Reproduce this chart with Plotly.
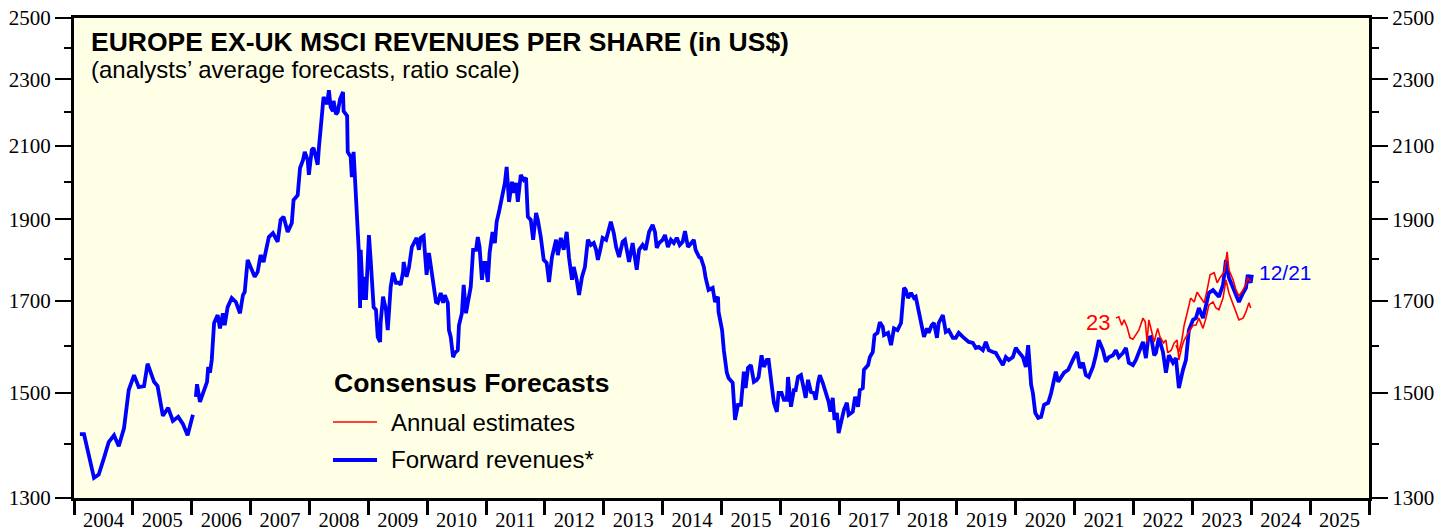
import plotly.graph_objects as go

# ---- data (decimal years, US$) ----
fwd_early_x = [2004.10, 2004.17, 2004.34, 2004.42, 2004.51, 2004.59, 2004.68, 2004.76, 2004.85, 2004.93,
               2005.02, 2005.10, 2005.19, 2005.25, 2005.36, 2005.42, 2005.51, 2005.60, 2005.68, 2005.77,
               2005.85, 2005.93, 2006.02]
fwd_early_v = [1418, 1418, 1336, 1342, 1373, 1403, 1416, 1395, 1430, 1506,
               1537, 1512, 1514, 1561, 1523, 1514, 1454, 1470, 1444, 1452,
               1438, 1416, 1456]

fwd_x = [2006.07, 2006.09, 2006.14, 2006.21, 2006.26, 2006.28, 2006.31, 2006.34, 2006.38, 2006.44,
         2006.48, 2006.53, 2006.56, 2006.61, 2006.68, 2006.75, 2006.82, 2006.87, 2006.90, 2006.95,
         2007.00, 2007.07, 2007.12, 2007.17, 2007.22, 2007.28, 2007.31, 2007.38, 2007.43, 2007.46,
         2007.51, 2007.56, 2007.63, 2007.70, 2007.73, 2007.80, 2007.84, 2007.89, 2007.92, 2007.97,
         2007.99, 2008.04, 2008.07, 2008.11, 2008.14, 2008.16, 2008.19, 2008.23, 2008.24, 2008.30,
         2008.33, 2008.36, 2008.40, 2008.41, 2008.45, 2008.48, 2008.52, 2008.57, 2008.58, 2008.64,
         2008.65, 2008.70, 2008.72, 2008.75, 2008.77, 2008.80, 2008.84, 2008.86, 2008.87, 2008.91,
         2008.92, 2008.96, 2008.99, 2009.01, 2009.04, 2009.08, 2009.09, 2009.13, 2009.16, 2009.20,
         2009.21, 2009.25, 2009.30, 2009.33, 2009.35, 2009.38, 2009.42, 2009.47, 2009.52, 2009.55,
         2009.59, 2009.60, 2009.65, 2009.69, 2009.74, 2009.77, 2009.82, 2009.86, 2009.89, 2009.94,
         2009.99, 2010.03, 2010.10, 2010.15, 2010.18, 2010.23, 2010.27, 2010.30, 2010.35, 2010.37,
         2010.40, 2010.44, 2010.47, 2010.52, 2010.54, 2010.59, 2010.62, 2010.66, 2010.69, 2010.74,
         2010.78, 2010.83, 2010.86, 2010.89, 2010.93, 2010.96, 2010.99, 2011.03, 2011.06, 2011.11,
         2011.15, 2011.18, 2011.22, 2011.25, 2011.29, 2011.32, 2011.35, 2011.39, 2011.44, 2011.47,
         2011.51, 2011.54, 2011.59, 2011.64, 2011.68, 2011.71, 2011.76, 2011.80, 2011.85, 2011.88,
         2011.93, 2011.98, 2012.03, 2012.07, 2012.12, 2012.15, 2012.19, 2012.22, 2012.27, 2012.32,
         2012.37, 2012.41, 2012.46, 2012.49, 2012.54, 2012.58, 2012.63, 2012.68, 2012.73, 2012.78,
         2012.83, 2012.87, 2012.90, 2012.95, 2012.98, 2013.04, 2013.07, 2013.12, 2013.17, 2013.21,
         2013.26, 2013.32, 2013.36, 2013.39, 2013.43, 2013.49, 2013.53, 2013.56, 2013.60, 2013.66,
         2013.71, 2013.77, 2013.83, 2013.87, 2013.90, 2013.94, 2014.00, 2014.04, 2014.09, 2014.14,
         2014.19, 2014.24, 2014.29, 2014.34, 2014.38, 2014.43, 2014.46, 2014.53, 2014.56, 2014.62,
         2014.65, 2014.70, 2014.73, 2014.78, 2014.85, 2014.89, 2014.94, 2014.95, 2015.01, 2015.04,
         2015.09, 2015.12, 2015.19, 2015.23, 2015.28, 2015.33, 2015.38, 2015.41, 2015.45, 2015.50,
         2015.55, 2015.60, 2015.63, 2015.68, 2015.72, 2015.77, 2015.80, 2015.85, 2015.89, 2015.94,
         2015.97, 2016.02, 2016.06, 2016.11, 2016.13, 2016.18, 2016.23, 2016.26, 2016.30, 2016.35,
         2016.40, 2016.43, 2016.47, 2016.52, 2016.57, 2016.60, 2016.64, 2016.67, 2016.72, 2016.77,
         2016.82, 2016.85, 2016.89, 2016.92, 2016.96, 2016.99, 2017.04, 2017.08, 2017.13, 2017.16,
         2017.23, 2017.27, 2017.32, 2017.35, 2017.40, 2017.42, 2017.49, 2017.52, 2017.57, 2017.60,
         2017.65, 2017.69, 2017.74, 2017.76, 2017.83, 2017.88, 2017.93, 2017.99, 2018.05, 2018.10,
         2018.13, 2018.17, 2018.22, 2018.27, 2018.30, 2018.35, 2018.40, 2018.44, 2018.49, 2018.52,
         2018.57, 2018.61, 2018.66, 2018.69, 2018.76, 2018.81, 2018.86, 2018.93, 2018.98, 2019.03,
         2019.10, 2019.15, 2019.20, 2019.27, 2019.32, 2019.37, 2019.44, 2019.49, 2019.54, 2019.61,
         2019.66, 2019.71, 2019.78, 2019.83, 2019.88, 2019.95, 2020.00, 2020.05, 2020.12, 2020.17,
         2020.21, 2020.22, 2020.26, 2020.29, 2020.33, 2020.38, 2020.43, 2020.48, 2020.55, 2020.60,
         2020.65, 2020.68, 2020.72, 2020.77, 2020.82, 2020.89, 2020.94, 2020.99, 2021.04, 2021.09,
         2021.14, 2021.19, 2021.24, 2021.31, 2021.36, 2021.41, 2021.48, 2021.53, 2021.58, 2021.65,
         2021.70, 2021.75, 2021.82, 2021.87, 2021.92, 2021.99, 2022.04, 2022.09, 2022.16, 2022.21,
         2022.25, 2022.30, 2022.35, 2022.38, 2022.43, 2022.50, 2022.55, 2022.60, 2022.67, 2022.72,
         2022.77, 2022.84, 2022.89, 2022.94, 2023.01, 2023.06, 2023.11, 2023.18, 2023.23, 2023.28,
         2023.35, 2023.40, 2023.45, 2023.52, 2023.57, 2023.62, 2023.69, 2023.74, 2023.79, 2023.86,
         2023.91, 2023.94, 2023.99, 2024.01]
fwd_v = [1492, 1518, 1482, 1506, 1523, 1554, 1542, 1569, 1650, 1668,
         1638, 1672, 1645, 1686, 1707, 1698, 1672, 1714, 1721, 1798,
         1781, 1757, 1769, 1810, 1793, 1828, 1855, 1865, 1853, 1843,
         1899, 1907, 1868, 1891, 1951, 1964, 2038, 2060, 2083, 2060,
         2019, 2089, 2094, 2069, 2047, 2094, 2158, 2214, 2245, 2223,
         2266, 2214, 2202, 2233, 2193, 2199, 2239, 2260, 2202, 2188,
         2083, 2069, 2013, 2083, 2019, 1933, 1815, 1684, 1823, 1703,
         1757, 1703, 1805, 1860, 1798, 1691, 1686, 1680, 1619, 1608,
         1652, 1710, 1680, 1634, 1664, 1733, 1767, 1743, 1743, 1738,
         1769, 1793, 1757, 1779, 1830, 1840, 1853, 1823, 1853, 1858,
         1762, 1815, 1743, 1698, 1696, 1719, 1696, 1714, 1696, 1634,
         1619, 1575, 1584, 1590, 1645, 1672, 1738, 1672, 1696, 1733,
         1823, 1823, 1855, 1830, 1750, 1791, 1791, 1745, 1815, 1868,
         1840, 1894, 1920, 1943, 1986, 1997, 2041, 1946, 2000, 1970,
         1997, 1946, 2019, 2005, 2011, 1907, 1899, 1848, 1917, 1899,
         1855, 1798, 1791, 1745, 1805, 1823, 1848, 1810, 1853, 1823,
         1868, 1803, 1750, 1781, 1750, 1714, 1757, 1781, 1848, 1835,
         1840, 1823, 1798, 1830, 1853, 1848, 1865, 1894, 1865, 1830,
         1805, 1843, 1848, 1823, 1793, 1840, 1798, 1774, 1823, 1835,
         1823, 1868, 1886, 1868, 1828, 1840, 1848, 1860, 1830, 1848,
         1840, 1853, 1835, 1843, 1870, 1830, 1835, 1848, 1823, 1805,
         1803, 1781, 1755, 1726, 1731, 1698, 1710, 1675, 1634, 1590,
         1542, 1531, 1521, 1446, 1476, 1476, 1544, 1510, 1552, 1558,
         1523, 1527, 1533, 1579, 1554, 1569, 1569, 1521, 1480, 1462,
         1500, 1500, 1486, 1486, 1533, 1472, 1506, 1506, 1533, 1537,
         1512, 1490, 1527, 1502, 1500, 1486, 1521, 1537, 1521, 1500,
         1482, 1462, 1490, 1446, 1460, 1420, 1446, 1466, 1480, 1456,
         1462, 1492, 1472, 1506, 1510, 1548, 1558, 1575, 1586, 1623,
         1628, 1652, 1641, 1623, 1628, 1601, 1638, 1634, 1650, 1731,
         1726, 1707, 1719, 1707, 1710, 1680, 1650, 1619, 1638, 1628,
         1645, 1650, 1617, 1650, 1668, 1630, 1634, 1617, 1617, 1628,
         1619, 1612, 1608, 1606, 1595, 1597, 1590, 1608, 1590, 1586,
         1584, 1573, 1558, 1575, 1569, 1575, 1595, 1586, 1575, 1554,
         1601, 1584, 1517, 1500, 1460, 1450, 1452, 1476, 1480, 1500,
         1531, 1544, 1523, 1533, 1542, 1548, 1563, 1575, 1586, 1552,
         1563, 1537, 1533, 1554, 1579, 1612, 1590, 1565, 1575, 1579,
         1590, 1575, 1584, 1595, 1563, 1558, 1569, 1584, 1608, 1573,
         1617, 1619, 1579, 1584, 1617, 1586, 1542, 1579, 1563, 1573,
         1510, 1548, 1569, 1634, 1657, 1661, 1684, 1661, 1691, 1719,
         1726, 1719, 1710, 1738, 1798, 1755, 1731, 1710, 1698, 1719,
         1731, 1762, 1743, 1762]

# annual estimates for 2023
est23_x = [2021.70, 2021.75, 2021.80, 2021.84, 2021.89, 2021.94, 2021.99, 2022.04, 2022.09, 2022.16,
           2022.20, 2022.23, 2022.26, 2022.31, 2022.35, 2022.41, 2022.45, 2022.51, 2022.55, 2022.58,
           2022.64, 2022.69, 2022.74, 2022.77, 2022.82, 2022.86, 2022.91, 2022.97, 2023.01, 2023.06,
           2023.11, 2023.18, 2023.23, 2023.28, 2023.35, 2023.40, 2023.45, 2023.52, 2023.57, 2023.62,
           2023.69, 2023.74, 2023.79, 2023.86, 2023.91, 2023.96, 2023.99]
est23_v = [1661, 1664, 1645, 1657, 1641, 1617, 1614, 1623, 1634, 1661,
           1652, 1608, 1657, 1630, 1608, 1638, 1619, 1606, 1612, 1584,
           1590, 1606, 1612, 1569, 1597, 1612, 1623, 1634, 1645, 1645,
           1661, 1638, 1661, 1691, 1698, 1684, 1680, 1707, 1750, 1719,
           1691, 1675, 1657, 1661, 1675, 1696, 1684]

# annual estimates for 2024
est24_x = [2022.72, 2022.77, 2022.82, 2022.86, 2022.91, 2022.97, 2023.03, 2023.08, 2023.13, 2023.20,
           2023.25, 2023.30, 2023.37, 2023.42, 2023.47, 2023.54, 2023.59, 2023.62, 2023.69, 2023.74,
           2023.79, 2023.86, 2023.91, 2023.94, 2023.99]
est24_v = [1601, 1586, 1612, 1645, 1672, 1707, 1698, 1721, 1710, 1696,
           1726, 1762, 1767, 1743, 1755, 1769, 1818, 1774, 1750, 1726,
           1712, 1726, 1740, 1755, 1745]

year_labels = [str(y) for y in range(2004, 2026)]
y_major = [1300, 1500, 1700, 1900, 2100, 2300, 2500]
y_minor = [1400, 1600, 1800, 2000, 2200, 2400]

# ---- figure ----
BLUE = "#0000FF"
RED = "#FF0000"
SANS = "Arial, Liberation Sans"
SERIF = "Liberation Serif"

fig = go.Figure()
fig.add_trace(go.Scatter(
    x=fwd_early_x + [None] + fwd_x, y=fwd_early_v + [None] + fwd_v,
    mode="lines", line=dict(color=BLUE, width=3.8), name="Forward revenues*"))
fig.add_trace(go.Scatter(
    x=est23_x, y=est23_v, mode="lines", line=dict(color=RED, width=1.6),
    name="Annual estimates 2023", yaxis="y2"))
fig.add_trace(go.Scatter(
    x=est24_x, y=est24_v, mode="lines", line=dict(color=RED, width=1.6),
    name="Annual estimates 2024", yaxis="y2"))

yrange = [3.113943, 3.397940]  # log10(1300), log10(2500)

def yax(side):
    return dict(
        type="log", range=yrange, showgrid=False, zeroline=False, automargin=False,
        showline=True, linewidth=3, linecolor="black", side=side,
        tickmode="array", tickvals=y_major, ticktext=[str(v) for v in y_major],
        ticks="outside", ticklen=16, tickwidth=1.5, tickcolor="black",
        tickfont=dict(family=SERIF, size=21, color="black"),
        minor=dict(tickmode="array", tickvals=y_minor, ticks="outside",
                   ticklen=7, tickwidth=1.5, tickcolor="black"),
    )

y2 = yax("right")
y2["overlaying"] = "y"

fig.update_layout(
    width=1437, height=529,
    margin=dict(l=74, r=68, t=18, b=31),
    paper_bgcolor="white", plot_bgcolor="#FFFFE6",
    showlegend=False,
    xaxis=dict(
        range=[2004, 2026], showgrid=False, zeroline=False, automargin=False,
        showline=True, linewidth=3, linecolor="black", mirror=True,
        tickmode="array", tickvals=[y + 0.5 for y in range(2004, 2026)], ticktext=year_labels,
        ticks="outside", ticklen=1, tickcolor="rgba(0,0,0,0)",
        tickfont=dict(family=SERIF, size=20.5, color="black"),
        minor=dict(tickmode="array", tickvals=list(range(2004, 2027)), ticks="outside",
                   ticklen=14, tickwidth=2.5, tickcolor="black"),
    ),
    yaxis=yax("left"),
    yaxis2=y2,
)

# title block
fig.add_annotation(xref="paper", yref="paper", x=0.0115, y=0.95, xanchor="left", yanchor="middle",
                   text="<b>EUROPE EX-UK MSCI REVENUES PER SHARE (in US$)</b>", showarrow=False,
                   font=dict(family=SANS, size=26.5, color="black"))
fig.add_annotation(xref="paper", yref="paper", x=0.0115, y=0.8917, xanchor="left", yanchor="middle",
                   text="(analysts’ average forecasts, ratio scale)", showarrow=False,
                   font=dict(family=SANS, size=24, color="black"))

# legend block
fig.add_annotation(xref="paper", yref="paper", x=0.199, y=0.2396, xanchor="left", yanchor="middle",
                   text="<b>Consensus Forecasts</b>", showarrow=False,
                   font=dict(family=SANS, size=26.5, color="black"))
fig.add_shape(type="line", xref="paper", yref="paper", x0=0.2, x1=0.234, y0=0.1583, y1=0.1583,
              line=dict(color=RED, width=1.6))
fig.add_annotation(xref="paper", yref="paper", x=0.243, y=0.1583, xanchor="left", yanchor="middle",
                   text="Annual estimates", showarrow=False, font=dict(family=SANS, size=24, color="black"))
fig.add_shape(type="line", xref="paper", yref="paper", x0=0.2, x1=0.234, y0=0.0792, y1=0.0792,
              line=dict(color=BLUE, width=3.8))
fig.add_annotation(xref="paper", yref="paper", x=0.243, y=0.0792, xanchor="left", yanchor="middle",
                   text="Forward revenues*", showarrow=False, font=dict(family=SANS, size=24, color="black"))

# series labels
fig.add_annotation(x=2021.40, y=3.2180, xanchor="center", yanchor="middle",
                   text="23", showarrow=False, font=dict(family=SANS, size=22, color=RED))
fig.add_annotation(x=2024.10, y=3.2473, xanchor="left", yanchor="middle",
                   text="12/21", showarrow=False, font=dict(family=SANS, size=21, color=BLUE))

fig.write_html("out.html", config={"displayModeBar": False},
               post_script="document.body.style.margin='0';")
